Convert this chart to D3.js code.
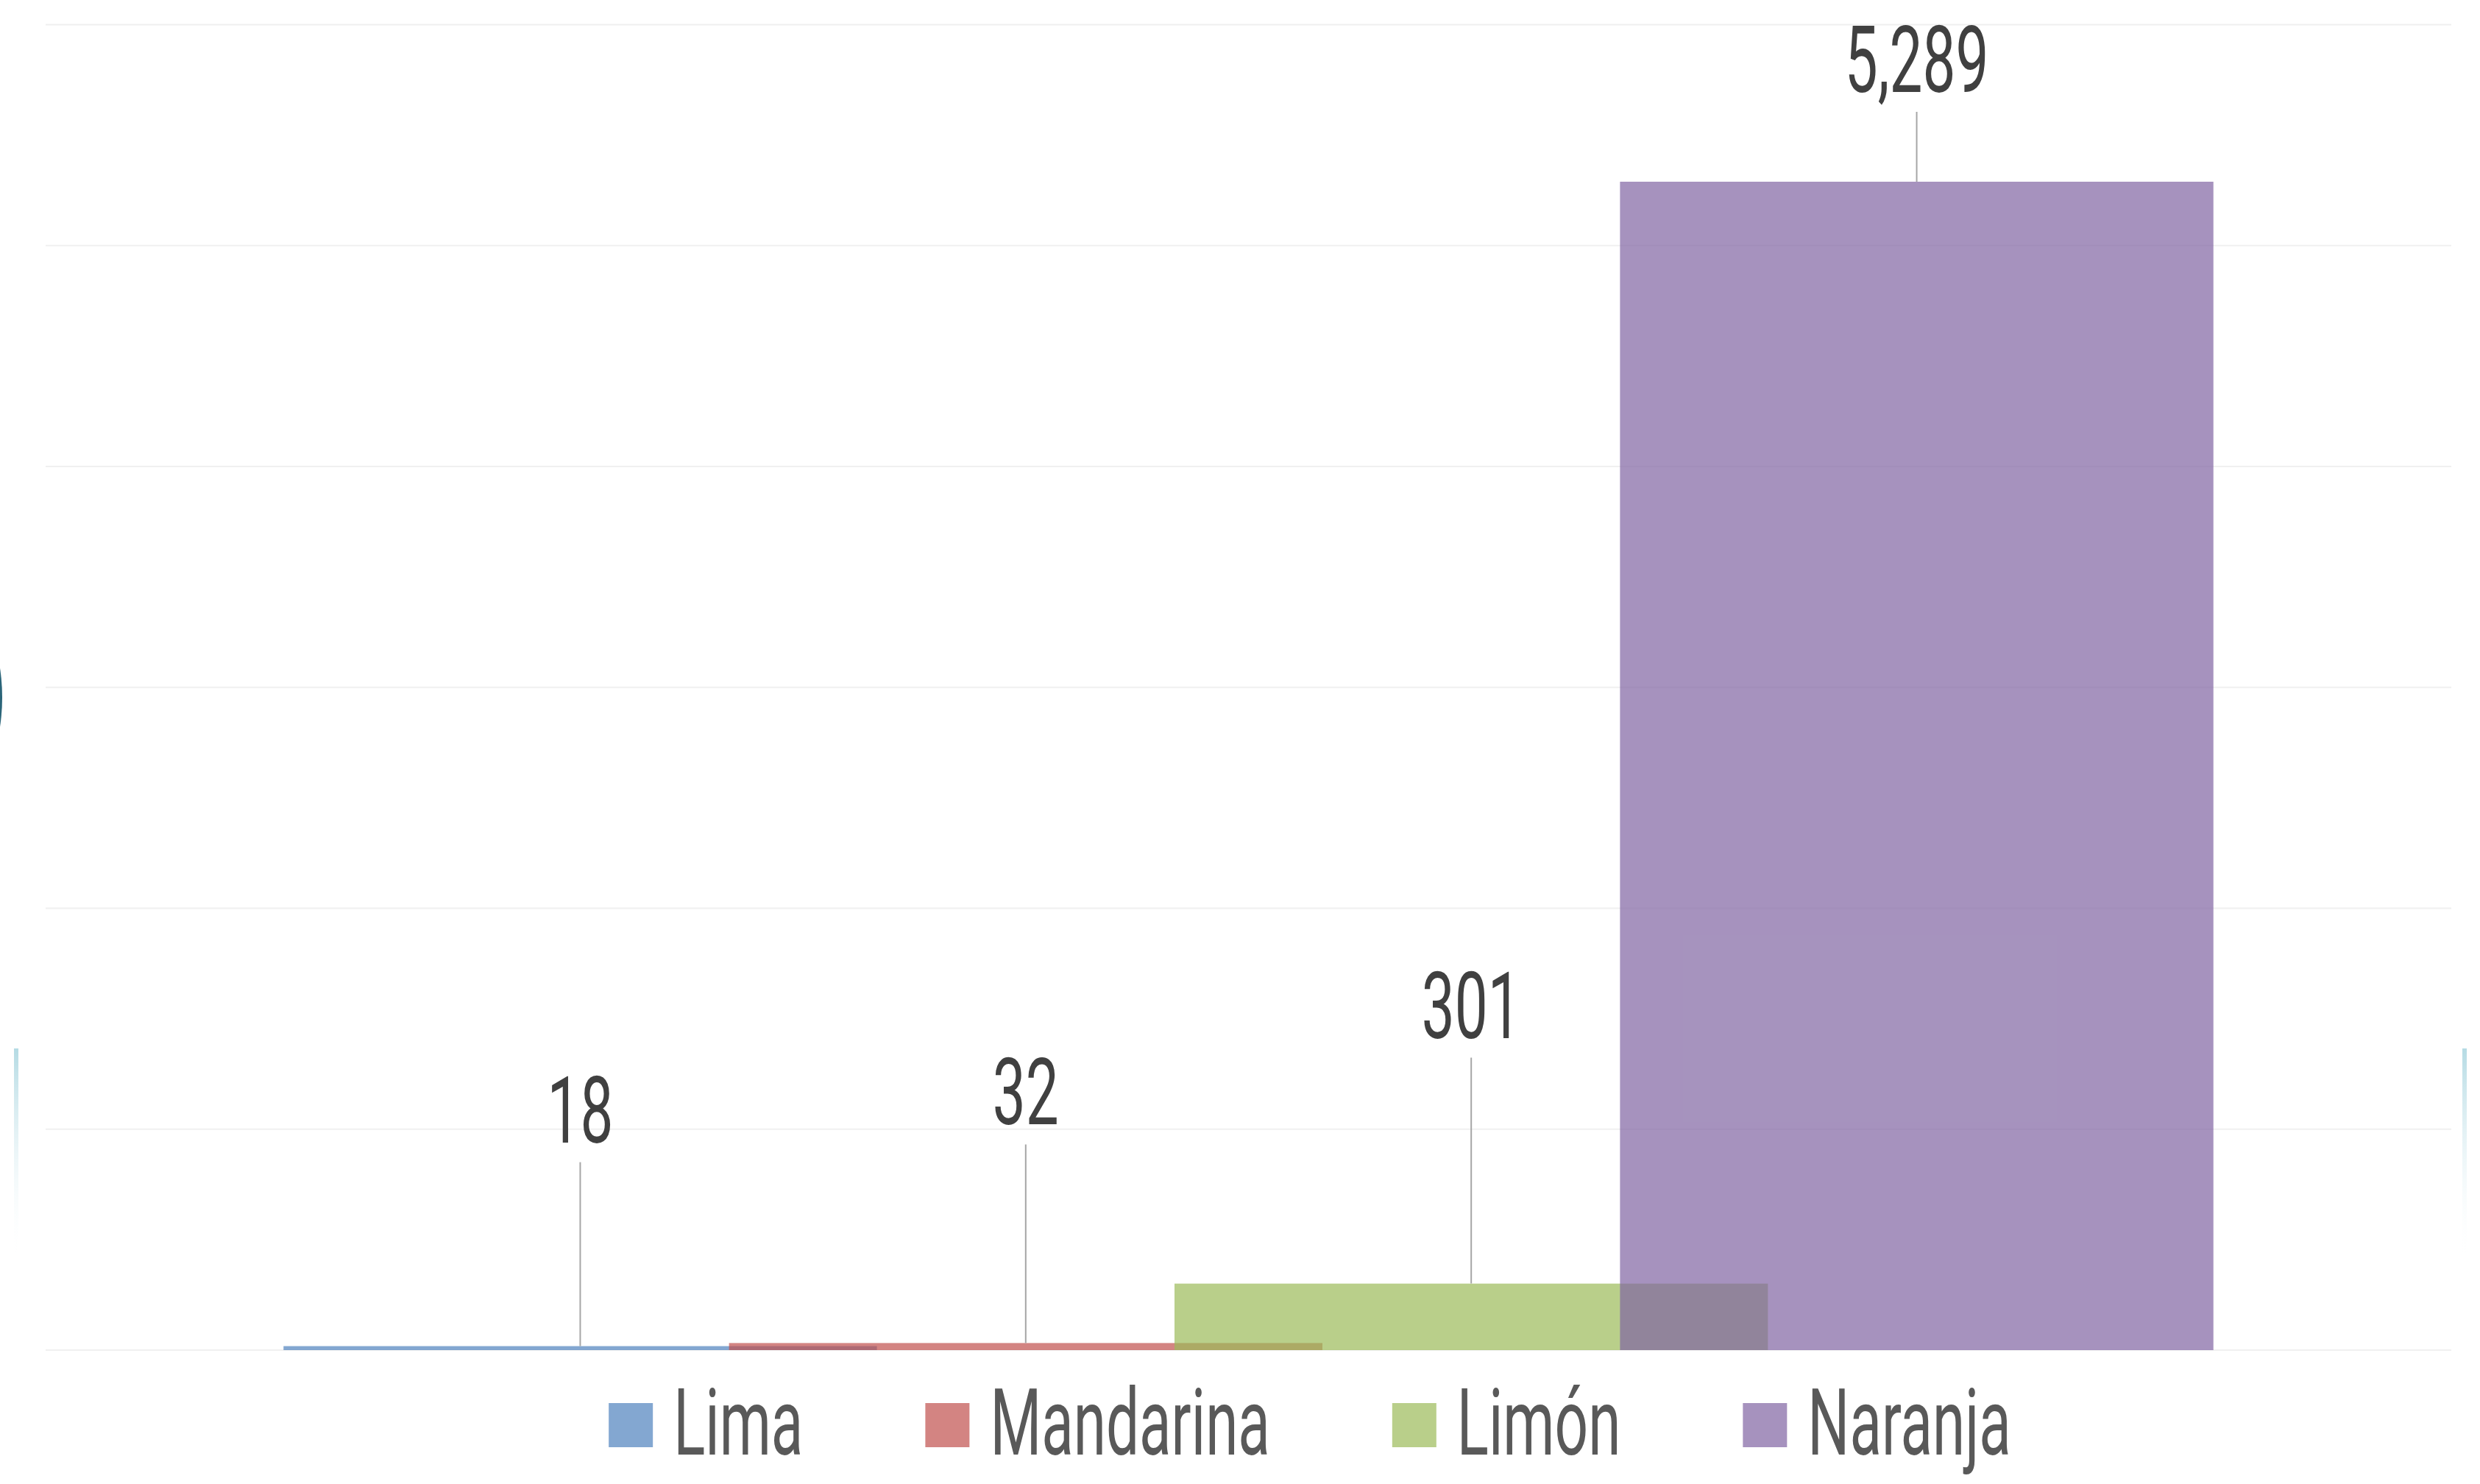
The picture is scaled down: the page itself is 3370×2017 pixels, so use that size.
<!DOCTYPE html>
<html>
<head>
<meta charset="utf-8">
<script src="https://cdn.jsdelivr.net/npm/d3@7"></script>
<style>
  html, body { margin: 0; padding: 0; background: #ffffff; }
  svg { display: block; }
</style>
</head>
<body>
<script>
// values
const fruits = ['Lima', 'Mandarina', 'Limón', 'Naranja'];
const amounts = [18, 32, 301, 5289];
const yTicks = [0, 1000, 2000, 3000, 4000, 5000, 6000];
const colors = ['#4F81BD', '#C0504D', '#9BBB59', '#8064A2'];

const svgSize = { width: 3370, height: 2017 };
const plot = { left: 62, right: 3331, top: 33.5, bottom: 1835 };
const fontFamily = 'Roboto, "DejaVu Sans", sans-serif';
const fontSize = 127;
const squeeze = 0.63;   // the original font is very narrow
// length of each leader line above its bar, px
const leaderLen = [250, 270, 307, 95];

const svg = d3.select('body')
    .append('svg')
    .attr('width', svgSize.width)
    .attr('height', svgSize.height);

const defs = svg.append('defs');
const grad = defs.append('linearGradient')
    .attr('id', 'fade')
    .attr('x1', 0).attr('y1', 0)
    .attr('x2', 0).attr('y2', 1);
grad.append('stop').attr('offset', '0%').attr('stop-color', '#b5dbe4').attr('stop-opacity', 1);
grad.append('stop').attr('offset', '100%').attr('stop-color', '#ffffff').attr('stop-opacity', 0);

// bits of the slide background that show at the edges
svg.append('circle')
    .attr('cx', -265)
    .attr('cy', 948)
    .attr('r', 268)
    .attr('fill', '#2b6579');
for (const x of [19, 3346]) {
    svg.append('rect')
        .attr('x', x)
        .attr('y', 1425)
        .attr('width', 6)
        .attr('height', 290)
        .attr('fill', 'url(#fade)');
}

const xScale = d3.scalePoint()
    .domain(fruits)
    .range([plot.left, plot.right])
    .padding(1.2);
const barWidth = xScale.step() * 1.332;

const yScale = d3.scaleLinear()
    .domain([0, 6000])
    .range([plot.bottom, plot.top]);

// gridlines
svg.append('g')
    .selectAll('line')
    .data(yTicks)
    .enter()
    .append('line')
    .attr('x1', plot.left)
    .attr('x2', plot.right)
    .attr('y1', d => yScale(d))
    .attr('y2', d => yScale(d))
    .attr('stroke', '#f0f0f0')
    .attr('stroke-width', 2);

// bars, drawn in order so the later ones sit on top
svg.append('g')
    .selectAll('rect')
    .data(amounts)
    .enter()
    .append('rect')
    .attr('x', (d, i) => xScale(fruits[i]) - barWidth / 2)
    .attr('y', d => yScale(d))
    .attr('width', barWidth)
    .attr('height', d => yScale(0) - yScale(d))
    .attr('fill', (d, i) => colors[i])
    .attr('fill-opacity', 0.7);

// leader lines and value labels
const labels = svg.append('g');
amounts.forEach((d, i) => {
    const cx = xScale(fruits[i]);
    const top = yScale(d) - leaderLen[i];
    labels.append('line')
        .attr('x1', cx).attr('x2', cx)
        .attr('y1', yScale(d))
        .attr('y2', top)
        .attr('stroke', '#a6a6a6')
        .attr('stroke-width', 2);
    labels.append('text')
        .attr('transform', `translate(${cx}, ${top - 27}) scale(${squeeze}, 1)`)
        .attr('text-anchor', 'middle')
        .attr('font-family', fontFamily)
        .attr('font-weight', 400)
        .attr('font-size', fontSize)
        .attr('fill', '#404040')
        .text(d3.format(',')(d));
});

// legend
const legend = svg.append('g');
const swatch = 60;
const textGap = 88;
const itemGap = 166;
const items = fruits.map((name, i) => {
    const g = legend.append('g');
    g.append('rect')
        .attr('y', 1907)
        .attr('width', swatch)
        .attr('height', swatch)
        .attr('fill', colors[i])
        .attr('fill-opacity', 0.7);
    const t = g.append('text')
        .attr('transform', `translate(${textGap}, 1977) scale(${squeeze}, 1)`)
        .attr('font-family', fontFamily)
        .attr('font-weight', 400)
        .attr('font-size', fontSize)
        .attr('fill', '#595959')
        .text(name);
    return { g, w: textGap + t.node().getComputedTextLength() * squeeze };
});
const total = d3.sum(items, d => d.w) + itemGap * (items.length - 1);
let lx = 1780 - total / 2;
for (const item of items) {
    item.g.attr('transform', `translate(${lx}, 0)`);
    lx += item.w + itemGap;
}
</script>
</body>
</html>
